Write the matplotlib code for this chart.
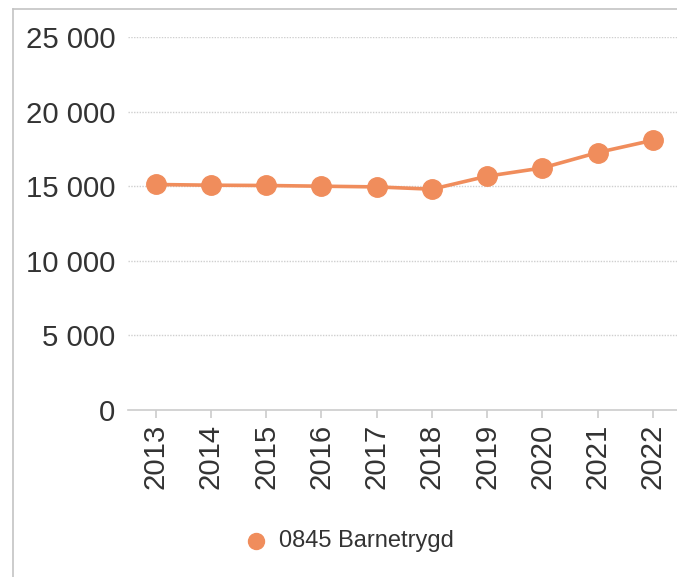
import matplotlib.pyplot as plt
from matplotlib.lines import Line2D
from matplotlib.ticker import FuncFormatter

plt.rcParams['font.family'] = ['Liberation Sans', 'DejaVu Sans']

years = ['2013', '2014', '2015', '2016', '2017', '2018', '2019', '2020', '2021', '2022']
values = [15114, 15067, 15047, 15000, 14953, 14800, 15670, 16225, 17257, 18080]
series_name = '0845 Barnetrygd'
y_ticks = [0, 5000, 10000, 15000, 20000, 25000]

orange = '#f08d5c'
text_col = '#333333'

fig = plt.figure(figsize=(6.77, 5.77), dpi=100)
W, H = 677, 577
left, right, top, bottom = 128, 680.6, 37, 410
ax = fig.add_axes([left / W, 1 - bottom / H, (right - left) / W, (bottom - top) / H])

x = list(range(len(years)))
ax.plot(x, values, color=orange, lw=2.6, marker='o', ms=14, zorder=3, clip_on=False)

ax.set_xlim(-0.5, len(years) - 0.5)
ax.set_ylim(0, 25000)
ax.set_yticks(y_ticks)
ax.yaxis.set_major_formatter(FuncFormatter(lambda v, p: f'{int(v):,}'.replace(',', ' ')))
ax.set_xticks(x)
ax.set_xticklabels(years, rotation=90)

for t in y_ticks[1:]:
    ax.axhline(t, color='#cfcfcf', lw=1, ls=(0, (1, 1)), zorder=1)

for s in ['top', 'right', 'left']:
    ax.spines[s].set_visible(False)
ax.spines['bottom'].set_color('#cccccc')
ax.spines['bottom'].set_linewidth(1.2)

ax.tick_params(axis='y', length=0, pad=9, labelsize=21.2, labelcolor=text_col)
ax.tick_params(axis='x', length=6, width=1.2, color='#cccccc', pad=4,
               labelsize=21.2, labelcolor=text_col)

# outer frame lines (top and left)
fig.add_artist(Line2D([13 / W, 13 / W], [0, 1 - 9 / H], transform=fig.transFigure,
                      color='#c4c4c4', lw=1.2))
fig.add_artist(Line2D([13 / W, 1], [1 - 9 / H, 1 - 9 / H], transform=fig.transFigure,
                      color='#c4c4c4', lw=1.2))

# legend
fig.add_artist(Line2D([256 / W], [1 - 541 / H], transform=fig.transFigure,
                      marker='o', ms=11.5, color=orange, lw=0))
fig.text(279 / W, 1 - 541 / H, series_name, fontsize=17, color=text_col,
         ha='left', va='center')

fig.savefig('out.png', dpi=100, facecolor='white')
